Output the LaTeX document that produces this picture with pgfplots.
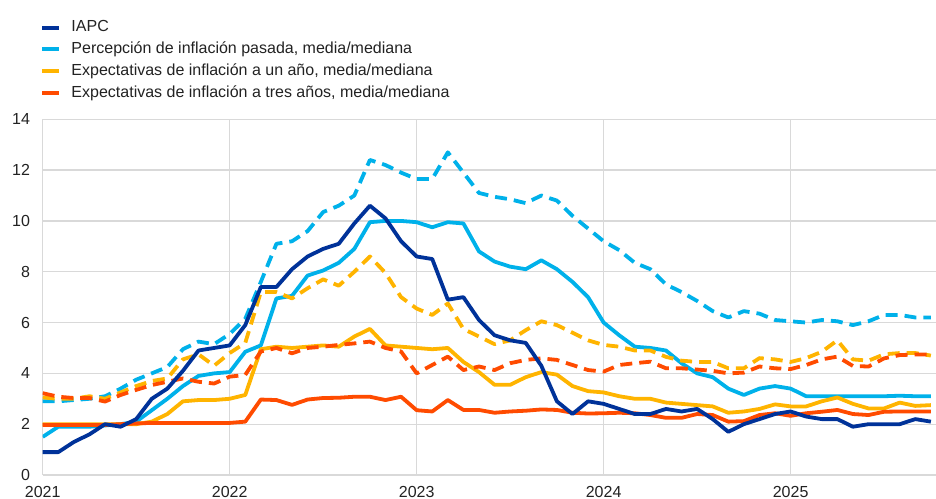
\documentclass[border=0pt]{standalone}
\usepackage{pgfplots}
\usepackage{pgfplotstable}
\pgfplotsset{compat=1.18}
\usepackage{fontspec}
\setmainfont{Liberation Sans}
\definecolor{iapc}{HTML}{003299}
\definecolor{lblue}{HTML}{00B1EA}
\definecolor{yel}{HTML}{FFB400}
\definecolor{ora}{HTML}{FF4B00}
\definecolor{gridgray}{HTML}{D9D9D9}
\definecolor{txt}{HTML}{222222}
\pgfplotstableread{
m iapc pmed pmean omed omean tmed tmean
0 0.9 1.5 2.9 2.0 3.05 1.97 3.22
1 0.9 1.9 2.9 2.0 3.0 1.97 3.08
2 1.3 1.9 2.95 2.0 3.0 1.97 3.03
3 1.6 1.9 3.0 2.0 3.1 1.97 3.03
4 2.0 1.95 3.1 2.0 3.0 1.97 2.89
5 1.9 2.0 3.4 2.0 3.25 2.0 3.15
6 2.2 2.1 3.75 2.0 3.5 2.03 3.35
7 3.0 2.55 4.0 2.1 3.7 2.05 3.54
8 3.4 3.0 4.25 2.4 3.8 2.05 3.67
9 4.1 3.5 4.95 2.9 4.55 2.05 3.8
10 4.9 3.9 5.25 2.95 4.75 2.05 3.67
11 5.0 4.0 5.15 2.95 4.3 2.05 3.6
12 5.1 4.05 5.55 3.0 4.8 2.05 3.87
13 5.9 4.85 6.15 3.15 5.2 2.1 3.94
14 7.4 5.1 7.6 4.95 7.2 2.97 4.86
15 7.4 6.95 9.1 5.05 7.2 2.95 5.0
16 8.1 7.05 9.2 5.0 6.95 2.76 4.79
17 8.6 7.85 9.6 5.05 7.35 2.97 5.0
18 8.9 8.05 10.35 5.1 7.7 3.03 5.05
19 9.1 8.35 10.6 5.05 7.45 3.04 5.12
20 9.9 8.9 11.0 5.45 8.0 3.08 5.18
21 10.6 9.95 12.4 5.75 8.6 3.08 5.25
22 10.1 10.0 12.2 5.1 7.95 2.95 5.0
23 9.2 10.0 11.9 5.05 7.0 3.08 4.86
24 8.6 9.95 11.65 5.0 6.55 2.55 4.0
25 8.5 9.75 11.65 4.95 6.3 2.5 4.33
26 6.9 9.95 12.7 5.0 6.75 2.95 4.66
27 7.0 9.9 11.9 4.45 5.75 2.56 4.13
28 6.1 8.8 11.1 4.05 5.45 2.56 4.27
29 5.5 8.4 10.95 3.55 5.15 2.45 4.13
30 5.3 8.2 10.85 3.55 5.3 2.5 4.4
31 5.2 8.1 10.7 3.85 5.7 2.53 4.53
32 4.3 8.45 11.0 4.05 6.05 2.58 4.59
33 2.9 8.1 10.8 3.95 5.9 2.56 4.53
34 2.4 7.6 10.2 3.5 5.6 2.45 4.33
35 2.9 7.0 9.7 3.3 5.3 2.42 4.13
36 2.8 6.0 9.2 3.25 5.12 2.43 4.07
37 2.6 5.5 8.85 3.1 5.05 2.45 4.33
38 2.4 5.05 8.35 3.0 4.9 2.43 4.4
39 2.4 5.0 8.1 3.0 4.9 2.36 4.46
40 2.6 4.9 7.5 2.85 4.65 2.25 4.2
41 2.5 4.4 7.2 2.8 4.5 2.25 4.2
42 2.6 4.0 6.85 2.75 4.45 2.4 4.15
43 2.2 3.85 6.45 2.7 4.45 2.36 4.1
44 1.7 3.4 6.2 2.45 4.2 2.1 4.0
45 2.0 3.15 6.45 2.5 4.2 2.12 4.03
46 2.2 3.4 6.35 2.6 4.6 2.36 4.27
47 2.4 3.5 6.1 2.78 4.55 2.43 4.2
48 2.5 3.4 6.05 2.7 4.45 2.33 4.17
49 2.3 3.1 6.0 2.7 4.6 2.43 4.33
50 2.2 3.1 6.1 2.9 4.85 2.49 4.55
51 2.2 3.1 6.05 3.05 5.3 2.56 4.66
52 1.9 3.1 5.9 2.8 4.55 2.4 4.29
53 2.0 3.1 6.05 2.62 4.5 2.36 4.27
54 2.0 3.1 6.3 2.62 4.75 2.49 4.59
55 2.0 3.12 6.3 2.85 4.8 2.5 4.72
56 2.2 3.1 6.2 2.72 4.8 2.5 4.74
57 2.1 3.1 6.2 2.75 4.7 2.5 4.74
}\data
\begin{document}
\begin{tikzpicture}
\path[use as bounding box] (0,0) rectangle (936bp,499bp);
\begin{axis}[
  at={(42.7bp,24bp)}, anchor=south west,
  scale only axis, width=893.3bp, height=355.7bp,
  xmin=0, xmax=57.33, ymin=0, ymax=14,
  xtick={0,12,24,36,48}, xticklabels={2021,2022,2023,2024,2025},
  ytick={0,2,4,6,8,10,12,14},
  grid=major, major grid style={draw=gridgray, line width=1.3bp},
  axis line style={draw=none},
  major tick length=0pt,
  tick label style={font=\fontsize{16bp}{19bp}\selectfont, text=txt},
  /pgf/number format/assume math mode=true,
  yticklabel style={inner xsep=0pt, xshift=-12.5bp},
  xticklabel style={inner ysep=0pt, yshift=-11bp},
  legend style={at={(0,1)}, anchor=south west, xshift=-2.5bp, yshift=18.5bp,
    draw=none, fill=none, inner sep=0pt, row sep=6.8bp,
    font=\fontsize{16bp}{19bp}\selectfont, text=txt,
    nodes={inner sep=0pt, text height=11.5bp, text depth=3.5bp},
    /tikz/every odd column/.append style={column sep=10.5bp}},
  legend cell align=left,
  legend image code/.code={\draw[#1, line width=4bp] (0bp,0bp) -- (16.6bp,0bp);},
  every axis plot/.append style={line width=3.8bp, line join=round},
  dashpat/.style={dash pattern=on 12bp off 7bp},
]
\addlegendimage{iapc}
\addlegendentry{IAPC}
\addlegendimage{lblue}
\addlegendentry{Percepción de inflación pasada, media/mediana}
\addlegendimage{yel}
\addlegendentry{Expectativas de inflación a un año, media/mediana}
\addlegendimage{ora}
\addlegendentry{Expectativas de inflación a tres años, media/mediana}
\addplot[lblue, forget plot] table[x=m, y=pmed] {\data};
\addplot[lblue, dashpat, forget plot] table[x=m, y=pmean] {\data};
\addplot[yel, forget plot] table[x=m, y=omed] {\data};
\addplot[yel, dashpat, forget plot] table[x=m, y=omean] {\data};
\addplot[ora, forget plot] table[x=m, y=tmed] {\data};
\addplot[ora, dashpat, forget plot] table[x=m, y=tmean] {\data};
\addplot[iapc, forget plot] table[x=m, y=iapc] {\data};
\end{axis}
\end{tikzpicture}
\end{document}
